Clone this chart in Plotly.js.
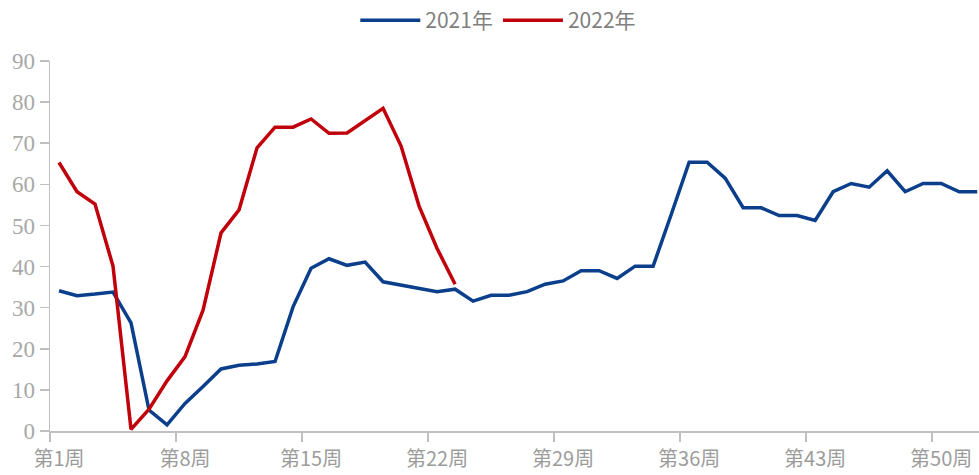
<!DOCTYPE html>
<html>
<head>
<meta charset="utf-8">
<script src="https://cdn.plot.ly/plotly-3.0.1.min.js"></script>
<style>html,body{margin:0;padding:0;background:#fff;}#chart{width:979px;height:475px;}</style>
</head>
<body>
<div id="chart"></div>
<script>
const weeks = Array.from({length: 52}, (_, i) => i + 1);
const series2021 = [34.1, 32.9, 33.3, 33.8, 26.3, 5.1, 1.5, 6.7, 10.8, 15.1,
  16.0, 16.3, 16.9, 30.2, 39.6, 41.9, 40.3, 41.1, 36.3, 35.5,
  34.7, 33.9, 34.5, 31.6, 33.0, 33.0, 33.9, 35.7, 36.5, 39.0,
  39.0, 37.1, 40.1, 40.1, 52.6, 65.4, 65.4, 61.5, 54.3, 54.3,
  52.4, 52.4, 51.2, 58.2, 60.2, 59.3, 63.3, 58.2, 60.2, 60.2,
  58.2, 58.2];
const series2022 = [65.3, 58.2, 55.2, 40.1, 0.4, 5.3, 12.2, 18.1, 29.4, 48.2,
  53.8, 68.9, 73.9, 73.9, 75.9, 72.4, 72.5, 75.5, 78.5, 69.3,
  54.7, 44.4, 35.7];
const labelWeeks = [1, 8, 15, 22, 29, 36, 43, 50];
const labelText = labelWeeks.map(w => '第' + w + '周');
const names = ['2021年', '2022年'];

const traces = [
  {x: weeks, y: series2021, name: names[0], type: 'scatter', mode: 'lines',
   line: {color: '#0b3f8c', width: 3.5}},
  {x: weeks.slice(0, series2022.length), y: series2022, name: names[1], type: 'scatter', mode: 'lines',
   line: {color: '#c0000b', width: 3.5}}
];

const layout = {
  width: 979, height: 475,
  margin: {l: 50, r: 0, t: 61, b: 44},
  paper_bgcolor: '#ffffff', plot_bgcolor: '#ffffff',
  showlegend: true,
  legend: {orientation: 'h', xref: 'container', yref: 'container', x: 0.509, xanchor: 'center',
    y: 1, yanchor: 'top', font: {family: 'Noto Sans CJK SC, Noto Sans, sans-serif', size: 21, color: '#808080'},
    itemwidth: 60, tracegroupgap: 0},
  xaxis: {
    range: [0.5, 52.1], showgrid: false, zeroline: false,
    showline: true, linecolor: '#c0c0c0', linewidth: 1.5,
    tickmode: 'array', tickvals: labelWeeks, ticktext: labelText,
    ticks: 'outside', ticklen: 9, tickcolor: 'rgba(0,0,0,0)',
    tickfont: {family: 'Noto Sans CJK SC, sans-serif', size: 20, color: '#9c9c9c'},
    minor: {tickmode: 'array', tickvals: labelWeeks.map(w => w - 0.5), ticks: 'outside',
      ticklen: 9, tickcolor: '#c0c0c0', tickwidth: 1.5, showgrid: false}
  },
  yaxis: {
    range: [0, 90], dtick: 10, tick0: 0, showgrid: false, zeroline: false,
    showline: true, linecolor: '#c0c0c0', linewidth: 1.5,
    ticks: 'outside', ticklen: 9, tickcolor: '#c0c0c0', tickwidth: 1.5,
    tickfont: {family: 'Liberation Serif, Times New Roman, serif', size: 23, color: '#a8a8a8'}
  }
};

Plotly.newPlot('chart', traces, layout, {displayModeBar: false, staticPlot: true});
</script>
</body>
</html>
